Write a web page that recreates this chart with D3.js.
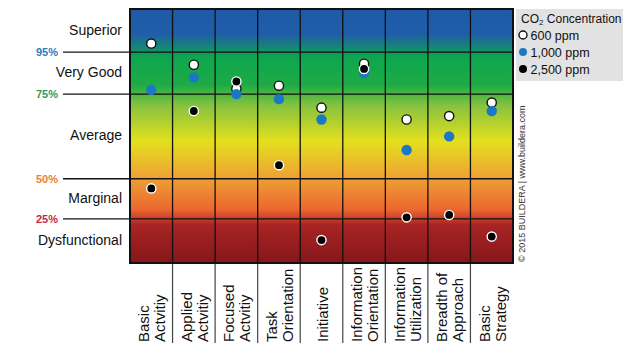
<!DOCTYPE html>
<html>
<head>
<meta charset="utf-8">
<script src="https://cdn.jsdelivr.net/npm/d3@7"></script>
<style>
  body { margin: 0; background: #fff; }
  svg { display: block; font-family: "Liberation Sans", Arial, Helvetica, sans-serif; }
</style>
</head>
<body>
<svg id="chart" width="640" height="349"></svg>
<script>
// categories (label lines, kept as written on the chart)
var categories = [
    ['Basic', 'Actvitiy'],
    ['Applied', 'Actvitiy'],
    ['Focused', 'Actvitiy'],
    ['Task', 'Orientation'],
    ['Initiative'],
    ['Information', 'Orientation'],
    ['Information', 'Utilization'],
    ['Breadth of', 'Approach'],
    ['Basic', 'Strategy']
];

// percentile scores per CO2 level
var ppm600 = [96, 89, 77.5, 79, 71, 89.5, 67.5, 68.5, 72.5];
var ppm1000 = [77, 83, 75, 73.5, 67.5, 85, 58.5, 62.5, 70];
var ppm2500 = [44, 70, 81, 54, 13, 87, 26, 27.5, 15];

// performance bands and thresholds
var bandEdges = [0, 25, 50, 75, 95, 100];
var bandLabels = ['Dysfunctional', 'Marginal', 'Average', 'Very Good', 'Superior'];
var bandWeights = [1.04, 0.95, 2, 0.99, 1.02];
var tickValues = [95, 75, 50, 25];
var tickColors = ['#2b7cbf', '#2e9b5e', '#e8803a', '#c0284a'];

var series = [
    { name: '600 ppm', values: ppm600, fill: '#ffffff', stroke: '#111' },
    { name: '1,000 ppm', values: ppm1000, fill: '#1c78c4', stroke: 'none' },
    { name: '2,500 ppm', values: ppm2500, fill: '#000000', stroke: '#fff' }
];

var svg = d3.select('#chart');

var plot = { left: 130, right: 513, top: 9, bottom: 263 };

// piecewise scale: each band gets its own share of the height
var totalW = d3.sum(bandWeights);
var cum = [0];
bandWeights.forEach(function(w, i) { cum.push(cum[i] + w); });
var y = d3.scaleLinear()
    .domain(bandEdges)
    .range(cum.map(function(c) {
        return plot.bottom - (plot.bottom - plot.top) * c / totalW;
    }));

var x = d3.scaleBand()
    .domain(d3.range(categories.length))
    .range([plot.left, plot.right]);

// background gradient
var defs = svg.append('defs');
var grad = defs.append('linearGradient')
    .attr('id', 'bg')
    .attr('x1', 0).attr('y1', 0).attr('x2', 0).attr('y2', 1);
var stops = [
    [0, '#1f5aa8'], [0.1, '#1f5ea8'], [0.19, '#0ea64e'], [0.3, '#1eab46'],
    [0.38, '#86c23e'], [0.52, '#e4e01e'], [0.66, '#eea334'], [0.79, '#ec6630'],
    [0.85, '#a82424'], [1, '#86161a']
];
stops.forEach(function(s) {
    grad.append('stop').attr('offset', s[0]).attr('stop-color', s[1]);
});

svg.append('rect')
    .attr('x', plot.left)
    .attr('y', plot.top)
    .attr('width', plot.right - plot.left)
    .attr('height', plot.bottom - plot.top)
    .attr('fill', 'url(#bg)');

// threshold lines
svg.selectAll('.hline')
    .data(tickValues)
    .enter()
    .append('line')
        .attr('class', 'hline')
        .attr('x1', 63)
        .attr('x2', plot.right)
        .attr('y1', function(d) { return y(d); })
        .attr('y2', function(d) { return y(d); })
        .attr('stroke', '#111')
        .attr('stroke-width', 1.3);

svg.selectAll('.pct')
    .data(tickValues)
    .enter()
    .append('text')
        .attr('class', 'pct')
        .attr('x', 58)
        .attr('y', function(d) { return y(d); })
        .attr('dy', '0.36em')
        .attr('text-anchor', 'end')
        .attr('font-size', 11)
        .attr('font-weight', 'bold')
        .attr('fill', function(d, i) { return tickColors[i]; })
        .text(function(d) { return d + '%'; });

// band names
svg.selectAll('.band')
    .data(bandLabels)
    .enter()
    .append('text')
        .attr('class', 'band')
        .attr('x', 122)
        .attr('y', function(d, i) { return (y(bandEdges[i]) + y(bandEdges[i + 1])) / 2 - 1; })
        .attr('dy', '0.36em')
        .attr('text-anchor', 'end')
        .attr('font-size', 14)
        .attr('fill', '#111')
        .text(function(d) { return d; });

// column separators, running down between the category labels
var seps = d3.range(1, categories.length);
svg.selectAll('.vline')
    .data(seps)
    .enter()
    .append('line')
        .attr('class', 'vline')
        .attr('x1', function(d) { return x(d); })
        .attr('x2', function(d) { return x(d); })
        .attr('y1', plot.top)
        .attr('y2', plot.bottom)
        .attr('stroke', '#111')
        .attr('stroke-width', 1.3);

svg.selectAll('.vlow')
    .data(seps)
    .enter()
    .append('line')
        .attr('class', 'vlow')
        .attr('x1', function(d) { return x(d); })
        .attr('x2', function(d) { return x(d); })
        .attr('y1', plot.bottom)
        .attr('y2', 343)
        .attr('stroke', '#444')
        .attr('stroke-width', 1.2);

// frame
svg.append('rect')
    .attr('x', plot.left)
    .attr('y', plot.top)
    .attr('width', plot.right - plot.left)
    .attr('height', plot.bottom - plot.top)
    .attr('fill', 'none')
    .attr('stroke', '#111')
    .attr('stroke-width', 2);

// points
series.forEach(function(s) {
    svg.selectAll(null)
        .data(s.values)
        .enter()
        .append('circle')
            .attr('cx', function(d, i) { return x(i) + x.bandwidth() / 2; })
            .attr('cy', function(d) { return y(d); })
            .attr('r', s.stroke === 'none' ? 5.2 : 4.6)
            .attr('fill', s.fill)
            .attr('stroke', s.stroke)
            .attr('stroke-width', 1.4);
});

// category labels, rotated
var cat = svg.selectAll('.cat')
    .data(categories)
    .enter()
    .append('g')
        .attr('class', 'cat')
        .attr('transform', function(d, i) {
            return 'translate(' + (x(i) + x.bandwidth() / 2) + ',342) rotate(-90)';
        });

cat.selectAll('text')
    .data(function(d) {
        return d.map(function(t, j) { return { text: t, j: j, n: d.length }; });
    })
    .enter()
    .append('text')
        .attr('x', 0)
        .attr('y', function(d) {
            if (d.n === 1) return 6;
            return d.j === 0 ? -2 : 14;
        })
        .attr('font-size', 15)
        .attr('fill', '#111')
        .text(function(d) { return d.text; });

// copyright
svg.append('text')
    .attr('transform', 'translate(525,262) rotate(-90)')
    .attr('font-size', 9)
    .attr('fill', '#333')
    .text('\u00a9 2015 BUILDERA | www.buildera.com');

// legend
var legend = svg.append('g').attr('transform', 'translate(516,9)');
legend.append('rect')
    .attr('width', 107)
    .attr('height', 72)
    .attr('fill', '#e2e2e2');

var title = legend.append('text')
    .attr('x', 5)
    .attr('y', 14)
    .attr('font-size', 12)
    .attr('fill', '#111');
title.append('tspan').text('CO');
title.append('tspan').attr('font-size', 8).attr('dy', 2).text('2');
title.append('tspan').attr('dy', -2).text(' Concentration');

var items = legend.selectAll('.item')
    .data(series)
    .enter()
    .append('g')
        .attr('class', 'item')
        .attr('transform', function(d, i) { return 'translate(0,' + (26 + i * 17) + ')'; });

items.append('circle')
    .attr('cx', 7)
    .attr('cy', 0)
    .attr('r', 4)
    .attr('fill', function(d) { return d.fill; })
    .attr('stroke', function(d) { return d.fill === '#ffffff' ? '#111' : 'none'; })
    .attr('stroke-width', 1.4);

items.append('text')
    .attr('x', 14.5)
    .attr('y', 0)
    .attr('dy', '0.36em')
    .attr('font-size', 12.5)
    .attr('fill', '#111')
    .text(function(d) { return d.name; });
</script>
</body>
</html>
